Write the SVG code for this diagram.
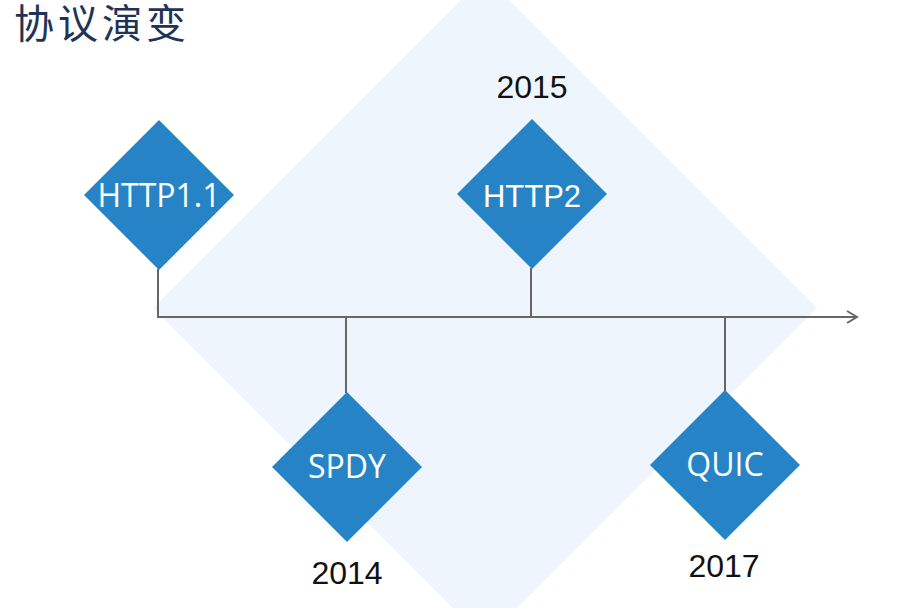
<svg xmlns="http://www.w3.org/2000/svg" width="923" height="608" viewBox="0 0 923 608">
<style>
.node{fill:#2684C6}
.lbl{fill:#ffffff;font-family:"Open Sans","Liberation Sans",sans-serif;font-size:32px;text-anchor:middle}
.yr{fill:#111111;font-family:"Liberation Sans",Arial,sans-serif;font-size:32px;text-anchor:middle}
.conn{stroke:#666666;stroke-width:2;fill:none}
</style>
<defs>
<marker id="arr" markerWidth="14" markerHeight="14" refX="11" refY="7" orient="auto" markerUnits="userSpaceOnUse">
<path d="M1,1 L11,7 L1,13" fill="none" stroke="#666666" stroke-width="2"/>
</marker>
</defs>
<rect width="923" height="608" fill="#ffffff"/>
<polygon id="background" points="485,-24 817,308 485,640 153,308" fill="#EEF5FC"/>
<text x="14" y="38" font-family="'Noto Sans CJK SC',sans-serif" font-size="40" letter-spacing="4" fill="#1E3457">协议演变</text>
<g id="connectors">
<line class="conn" x1="158" y1="317" x2="857" y2="317" marker-end="url(#arr)"/>
<line class="conn" x1="158" y1="269" x2="158" y2="318"/>
<line class="conn" x1="531" y1="268" x2="531" y2="317"/>
<line class="conn" x1="346" y1="317" x2="346" y2="393"/>
<line class="conn" x1="725" y1="317" x2="725" y2="391"/>
</g>
<g id="http11">
<polygon class="node" points="159,120 234,195 159,270 84,195"/>
<text class="lbl" x="159" y="207">HTTP1.1</text>
</g>
<g id="http2">
<polygon class="node" points="532,119 607,194 532,269 457,194"/>
<text class="lbl" x="532" y="207" style="font-family:'Liberation Sans',Arial,sans-serif;font-size:31px">HTTP2</text>
<text class="yr" x="532" y="98">2015</text>
</g>
<g id="spdy">
<polygon class="node" points="347,392 422,467 347,542 272,467"/>
<text class="lbl" x="347" y="478">SPDY</text>
<text class="yr" x="347" y="584">2014</text>
</g>
<g id="quic">
<polygon class="node" points="725,390 800,465 725,540 650,465"/>
<text class="lbl" x="725" y="476">QUIC</text>
<text class="yr" x="724" y="577">2017</text>
</g>
</svg>
